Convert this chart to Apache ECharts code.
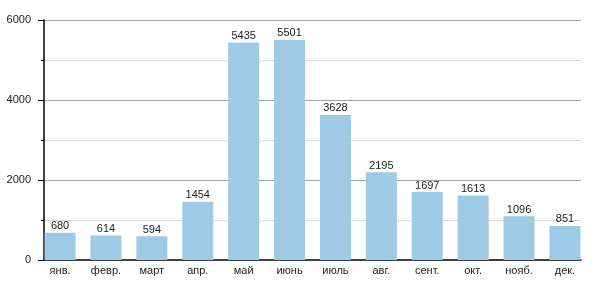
<!DOCTYPE html>
<html><head><meta charset="utf-8">
<script src="https://cdn.jsdelivr.net/npm/echarts@6/dist/echarts.min.js"></script>
<style>html,body{margin:0;padding:0;background:#fff}#c{width:600px;height:300px}</style>
</head><body><div id="c"></div>
<script>
const months = ['янв.','февр.','март','апр.','май','июнь','июль','авг.','сент.','окт.','нояб.','дек.'];
const values = [680, 614, 594, 1454, 5435, 5501, 3628, 2195, 1697, 1613, 1096, 851];
const yTicks = [0, 2000, 4000, 6000];

const chart = echarts.init(document.getElementById('c'), null, {renderer:'canvas'});
const font = 'Liberation Sans, Arial, Helvetica, sans-serif';
chart.setOption({
  animation: false,
  grid: {left: 44, right: 19, top: 20, bottom: 40, containLabel: false},
  xAxis: {
    type: 'value', min: -0.35, max: 11.35,
    axisLine: {show: true, onZero: false, lineStyle: {color: '#000', width: 1.5}},
    axisTick: {show: false},
    splitLine: {show: false},
    axisLabel: {
      customValues: months.map((m, i) => i),
      formatter: v => months[Math.round(v)],
      color: '#222', fontSize: 11, fontFamily: font, margin: 5
    }
  },
  yAxis: {
    type: 'value', min: yTicks[0], max: yTicks[yTicks.length-1], interval: 2000,
    axisLine: {show: true, onZero: false, lineStyle: {color: '#000', width: 1.5}},
    axisTick: {show: true, length: 6, lineStyle: {color: '#000'}},
    minorTick: {show: true, splitNumber: 2, length: 3, lineStyle: {color: '#000'}},
    splitLine: {show: true, showMinLine: false, lineStyle: {color: '#a0a0a0', width: 1}},
    minorSplitLine: {show: true, lineStyle: {color: '#dcdcdc', width: 1}},
    axisLabel: {color: '#222', fontSize: 11, fontFamily: font, margin: 13, formatter: v => String(v)}
  },
  series: [{
    type: 'bar',
    data: values.map((v, i) => [i, v]),
    barWidth: 31,
    itemStyle: {color: '#9dcbe5'},
    label: {show: true, position: 'top', distance: 1, color: '#222', fontSize: 11, fontFamily: font,
      formatter: p => String(p.value[1])}
  }]
});
</script></body></html>
